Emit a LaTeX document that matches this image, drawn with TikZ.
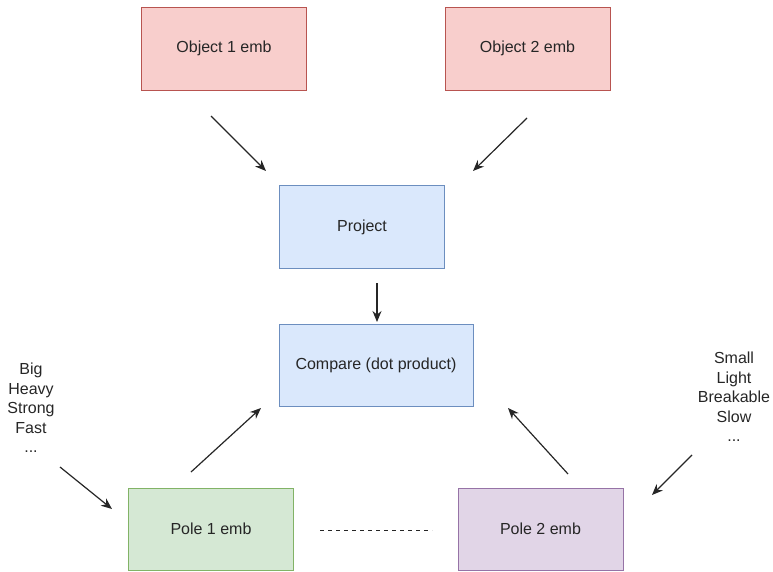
\documentclass[tikz,border=0pt]{standalone}
\usepackage{fontspec}
\setmainfont{Liberation Sans}
\usetikzlibrary{arrows.meta}
\definecolor{redfill}{HTML}{F8CECC}
\definecolor{redline}{HTML}{B85450}
\definecolor{bluefill}{HTML}{DAE8FC}
\definecolor{blueline}{HTML}{6C8EBF}
\definecolor{greenfill}{HTML}{D5E8D4}
\definecolor{greenline}{HTML}{82B366}
\definecolor{purplefill}{HTML}{E1D5E7}
\definecolor{purpleline}{HTML}{9673A6}
\tikzset{
  box/.style={draw, line width=1pt, minimum width=165pt, minimum height=83pt, inner sep=0pt,
    font=\fontsize{16}{19.5}\selectfont, text=black!85},
  redbox/.style={box, fill=redfill, draw=redline},
  bluebox/.style={box, fill=bluefill, draw=blueline},
  greenbox/.style={box, fill=greenfill, draw=greenline},
  purplebox/.style={box, fill=purplefill, draw=purpleline},
  listtext/.style={align=center, inner sep=0pt, font=\fontsize{16}{19.5}\selectfont, text=black!85},
  arr/.style={-{Stealth[length=11pt,width=9pt]}, line width=1.2pt, black!85}
}
\begin{document}
\begin{tikzpicture}[x=1pt,y=-1pt]
\useasboundingbox (0,0) rectangle (773,571);
\node[redbox] (o1) at (224,48.5) {Object 1 emb};
\node[redbox] (o2) at (527.5,48.5) {Object 2 emb};
\node[bluebox] (proj) at (362,227) {Project};
\node[bluebox, minimum width=194pt, minimum height=82pt] (comp) at (376,365) {Compare (dot product)};
\node[greenbox, minimum height=82pt] (p1) at (211,529) {Pole 1 emb};
\node[purplebox, minimum height=82pt] (p2) at (540.5,529) {Pole 2 emb};
\node[listtext] (big) at (31,408) {Big\\Heavy\\Strong\\Fast\\...};
\node[listtext] (small) at (734,397) {Small\\Light\\Breakable\\Slow\\...};
% free arrow end points
\coordinate (a1s) at (211,116); \coordinate (a1e) at (266,171);
\coordinate (a2s) at (527,118); \coordinate (a2e) at (473,171);
\coordinate (a3s) at (377,283); \coordinate (a3e) at (377,322);
\coordinate (a4s) at (191,472); \coordinate (a4e) at (261,408);
\coordinate (a5s) at (568,474); \coordinate (a5e) at (508,408);
\coordinate (a6s) at (60,467); \coordinate (a6e) at (112,509);
\coordinate (a7s) at (692,455); \coordinate (a7e) at (652,495);
\coordinate (d1) at (320,530); \coordinate (d2) at (432,530);
\draw[arr] (a1s) -- (a1e);
\draw[arr] (a2s) -- (a2e);
\draw[arr] (a3s) -- (a3e);
\draw[arr] (a4s) -- (a4e);
\draw[arr] (a5s) -- (a5e);
\draw[arr] (a6s) -- (a6e);
\draw[arr] (a7s) -- (a7e);
\draw[line width=1pt, black!85, dash pattern=on 4pt off 4pt] (d1) -- (d2);
\end{tikzpicture}
\end{document}
